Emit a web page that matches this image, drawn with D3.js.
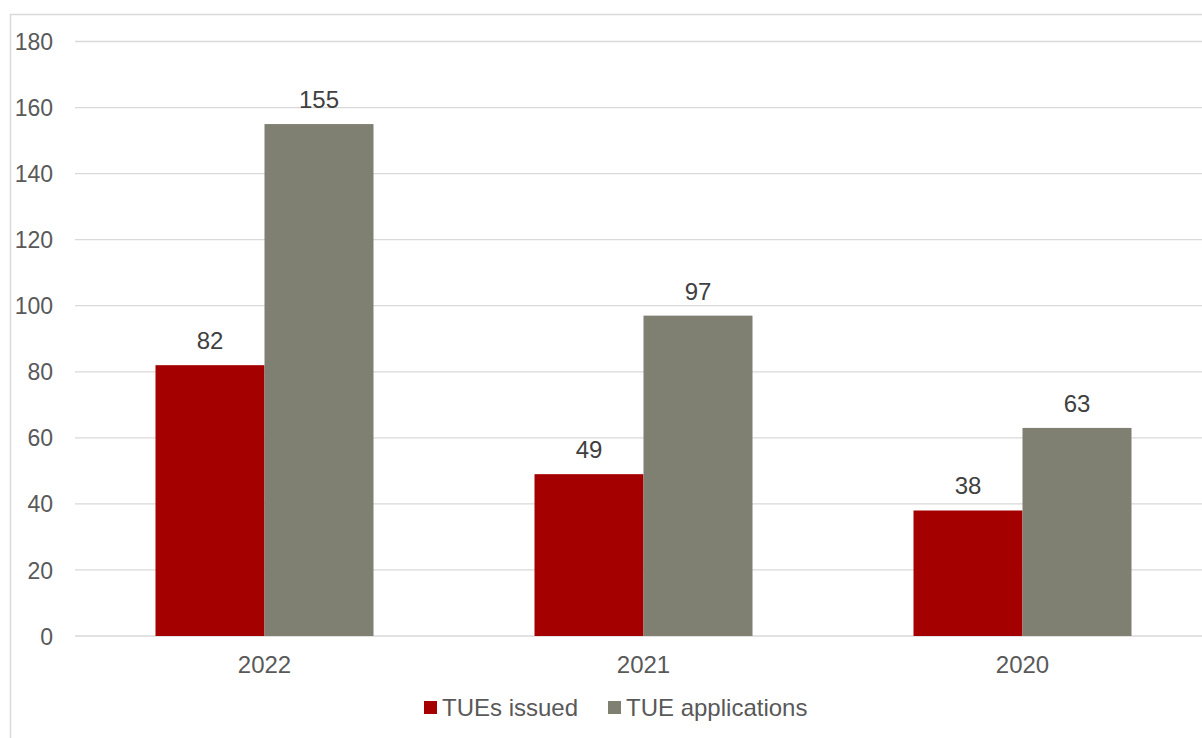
<!DOCTYPE html>
<html><head><meta charset="utf-8">
<script src="https://cdn.jsdelivr.net/npm/d3@7"></script>
<style>body{margin:0;background:#fff;}svg{display:block;font-family:"Liberation Sans",Arial,sans-serif;}</style>
</head><body>
<svg id="c" width="1202" height="738"></svg>
<script>
const categories = ["2022", "2021", "2020"];
const seriesNames = ["TUEs issued", "TUE applications"];
const issued = [82, 49, 38];
const applications = [155, 97, 63];
const yTicks = [0, 20, 40, 60, 80, 100, 120, 140, 160, 180];
const colors = ["#A50000", "#7F7F72"];

const svg = d3.select("#c");
svg.append("rect").attr("x", 10.5).attr("y", 14.5).attr("width", 1210).attr("height", 740)
  .attr("fill", "none").attr("stroke", "#D9D9D9").attr("stroke-width", 1.5);

const x0 = d3.scaleBand().domain(categories).range([75, 1212]).paddingInner(0).paddingOuter(0);
const y = d3.scaleLinear().domain([0, 180]).range([636, 41.5]);
const groupW = 218;
const x1 = d3.scaleBand().domain(seriesNames).range([0, groupW]).padding(0);

svg.append("g").selectAll("line").data(yTicks).join("line")
  .attr("x1", 75).attr("x2", 1212)
  .attr("y1", d => y(d)).attr("y2", d => y(d))
  .attr("stroke", "#D9D9D9").attr("stroke-width", 1.3);

const yAxis = d3.axisLeft(y).tickValues(yTicks).tickSize(0).tickPadding(0);
const ga = svg.append("g").attr("transform", "translate(53,0)").call(yAxis);
ga.select(".domain").remove();
ga.selectAll("text").attr("font-size", 23).attr("fill", "#595959")
  .attr("font-family", "Liberation Sans, Arial, sans-serif").attr("dy", "0.35em");

const xAxis = d3.axisBottom(x0).tickSize(0).tickPadding(0);
const gx = svg.append("g").attr("transform", "translate(0,665)").call(xAxis);
gx.select(".domain").remove();
gx.selectAll("text").attr("font-size", 24).attr("fill", "#595959")
  .attr("font-family", "Liberation Sans, Arial, sans-serif").attr("dy", "0.35em");

const data = categories.map((c, i) => ({cat: c, vals: [issued[i], applications[i]]}));
const groups = svg.append("g").selectAll("g").data(data).join("g")
  .attr("transform", d => `translate(${x0(d.cat) + x0.bandwidth()/2 - groupW/2},0)`);
groups.selectAll("rect").data(d => d.vals.map((v, j) => ({v, s: seriesNames[j], j}))).join("rect")
  .attr("x", d => x1(d.s)).attr("width", x1.bandwidth())
  .attr("y", d => y(d.v)).attr("height", d => y(0) - y(d.v))
  .attr("fill", d => colors[d.j]);
groups.selectAll("text").data(d => d.vals.map((v, j) => ({v, s: seriesNames[j], j}))).join("text")
  .attr("x", d => x1(d.s) + x1.bandwidth()/2).attr("y", d => y(d.v) - 16)
  .attr("text-anchor", "middle").attr("font-size", 24).attr("fill", "#404040")
  .text(d => d.v);

const legX = [424, 608];
const leg = svg.append("g").selectAll("g").data(seriesNames).join("g")
  .attr("transform", (d, i) => `translate(${legX[i]},701)`);
leg.append("rect").attr("width", 13).attr("height", 13).attr("fill", (d, i) => colors[i]);
leg.append("text").attr("x", 18).attr("y", 7).attr("dy", "0.35em").attr("font-size", 24).attr("fill", "#595959").text(d => d);
</script>
</body></html>
